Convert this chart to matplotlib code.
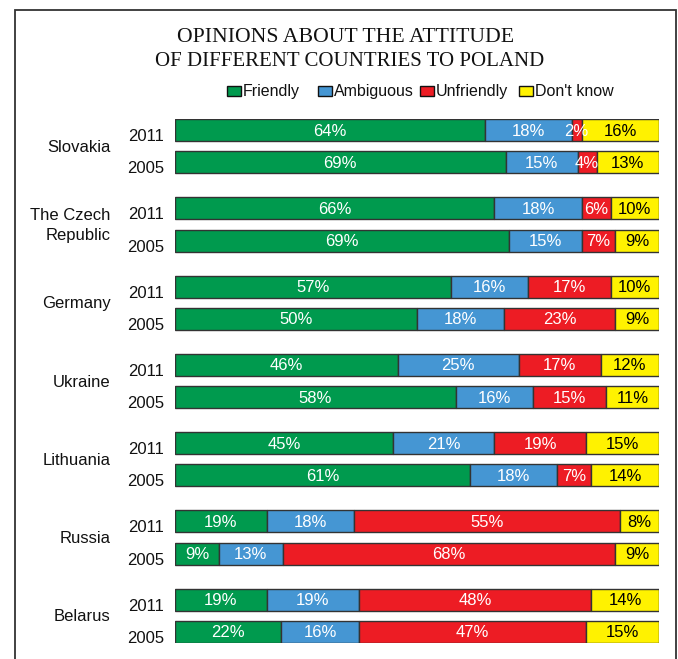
import matplotlib
matplotlib.use("Agg")
import matplotlib.pyplot as plt
from matplotlib.patches import Rectangle
import numpy as np

countries = ["Slovakia", "The Czech\nRepublic", "Germany", "Ukraine", "Lithuania", "Russia", "Belarus"]
years = ["2011", "2005"]
categories = ["Friendly", "Ambiguous", "Unfriendly", "Don't know"]

friendly_2011 = [64, 66, 57, 46, 45, 19, 19]
ambiguous_2011 = [18, 18, 16, 25, 21, 18, 19]
unfriendly_2011 = [2, 6, 17, 17, 19, 55, 48]
dontknow_2011 = [16, 10, 10, 12, 15, 8, 14]

friendly_2005 = [69, 69, 50, 58, 61, 9, 22]
ambiguous_2005 = [15, 15, 18, 16, 18, 13, 16]
unfriendly_2005 = [4, 7, 23, 15, 7, 68, 47]
dontknow_2005 = [13, 9, 9, 11, 14, 9, 15]

colors = ["#009a4e", "#4596d3", "#ed1c24", "#fff200"]
text_colors = ["white", "white", "white", "black"]

W, H = 678, 659
fig = plt.figure(figsize=(W / 100, H / 100), dpi=100)

# outer frame
fig.patches.append(Rectangle((15 / W, -0.05), (676 - 15) / W, (H - 10) / H + 0.05,
                             transform=fig.transFigure, fill=False,
                             edgecolor="#333333", linewidth=1.3))

group_step = 78.2
pair_gap = 32.3
bar_h = 22
top_px, bot_px = 119, 643
ax = fig.add_axes([175 / W, 1 - bot_px / H, (659 - 175) / W, (bot_px - top_px) / H])
ax.set_xlim(0, 1)
y_first = bar_h / 2
y_last = (len(countries) - 1) * group_step + pair_gap + bar_h / 2
ax.set_ylim(y_last + bar_h / 2, 0)
ax.axis("off")

data = {
    "2011": [friendly_2011, ambiguous_2011, unfriendly_2011, dontknow_2011],
    "2005": [friendly_2005, ambiguous_2005, unfriendly_2005, dontknow_2005],
}

font = "Liberation Sans"
for i, country in enumerate(countries):
    for j, yr in enumerate(years):
        y = y_first + i * group_step + j * pair_gap
        vals = [series[i] for series in data[yr]]
        total = sum(vals)
        left = 0.0
        for k, v in enumerate(vals):
            w = v / total
            ax.barh(y, w, left=left, height=bar_h, color=colors[k],
                    edgecolor="#333333", linewidth=1.0)
            ax.text(left + w / 2, y + 1, f"{v}%", ha="center", va="center",
                    color=text_colors[k], fontsize=12, family=font)
            left += w
        ax.text(-0.023, y + 6.5, yr, ha="right", va="center", fontsize=12,
                family=font, color="#111111")
    yc = y_first + i * group_step + pair_gap / 2
    ax.text(-0.133, yc + 1, country, ha="right", va="center", fontsize=12,
            family=font, color="#111111", linespacing=1.4)

# title
fig.text(346 / W, 1 - 38 / H, "OPINIONS ABOUT THE ATTITUDE", ha="center", va="center",
         fontsize=15.7, family="Liberation Serif", color="#111111")
fig.text(350 / W, 1 - 62 / H, "OF DIFFERENT COUNTRIES TO POLAND", ha="center", va="center",
         fontsize=15.0, family="Liberation Serif", color="#111111")

# legend
leg_x = [227, 318, 420, 519]
for k, cat in enumerate(categories):
    x0 = leg_x[k]
    fig.patches.append(Rectangle((x0 / W, 1 - 96 / H), 14 / W, 10 / H,
                                 transform=fig.transFigure, facecolor=colors[k],
                                 edgecolor="#111111", linewidth=1.0))
    fig.text((x0 + 16) / W, 1 - 91.5 / H, cat, ha="left", va="center",
             fontsize=11.5, family=font, color="#111111")

fig.savefig("out.png", dpi=100)
